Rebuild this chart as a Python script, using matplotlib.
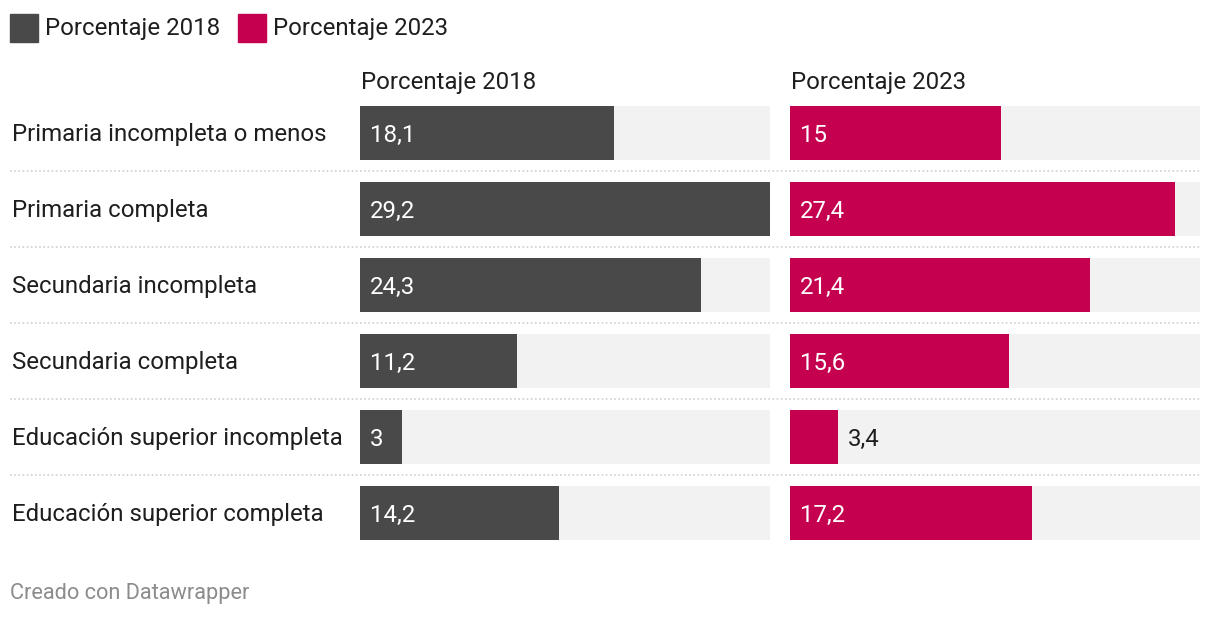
import matplotlib.pyplot as plt
import matplotlib.transforms as mtransforms
from matplotlib.lines import Line2D
from matplotlib.patches import Rectangle

plt.rcParams['font.family'] = ['Roboto', 'DejaVu Sans']

categories = ['Primaria incompleta o menos', 'Primaria completa', 'Secundaria incompleta',
              'Secundaria completa', 'Educación superior incompleta', 'Educación superior completa']
pct_2018 = [18.1, 29.2, 24.3, 11.2, 3.0, 14.2]
pct_2023 = [15.0, 27.4, 21.4, 15.6, 3.4, 17.2]
series_names = ['Porcentaje 2018', 'Porcentaje 2023']
colors = ['#494949', '#c4004f']

W, H = 1220, 618
fig = plt.figure(figsize=(W / 100, H / 100), dpi=100)
FS = 17.3
TXT = '#1e1e1e'

def fx(px):
    return px / W

def fy(py):
    return 1 - py / H

vmax = max(max(pct_2018), max(pct_2023))
n = len(categories)
pitch = 76
bh = 54 / pitch
top, bottom = 106, 540
dy = 2 / pitch  # small downward nudge for text

axes = []
for left, vals, col, name in [(360, pct_2018, colors[0], series_names[0]),
                              (790, pct_2023, colors[1], series_names[1])]:
    ax = fig.add_axes([fx(left), fy(bottom), fx(410), (bottom - top) / H])
    ax.set_xlim(0, vmax)
    ax.set_ylim(n - 1 + bh / 2, -bh / 2)
    ax.axis('off')
    ys = range(n)
    ax.barh(ys, [vmax] * n, height=bh, color='#f2f2f2', zorder=1)
    ax.barh(ys, vals, height=bh, color=col, zorder=2)
    px_per = 410 / vmax
    for y, v in zip(ys, vals):
        lab = f'{v:g}'.replace('.', ',')
        if v * px_per > 11 * len(lab) + 20:
            ax.annotate(lab, (0, y + dy), xytext=(10, 0), textcoords='offset pixels',
                        va='center', ha='left', color='white', fontsize=FS, zorder=3)
        else:
            ax.annotate(lab, (v, y + dy), xytext=(10, 0), textcoords='offset pixels',
                        va='center', ha='left', color=TXT, fontsize=FS, zorder=3)
    fig.text(fx(left + 1), fy(83), name, fontsize=FS, color=TXT, va='center', ha='left')
    axes.append(ax)

# row labels and dotted separators
tr = mtransforms.blended_transform_factory(fig.transFigure, axes[0].transData)
for i, cat in enumerate(categories):
    fig.text(fx(12), i + dy, cat, transform=tr, fontsize=FS, color=TXT, va='center', ha='left')
    if i < n - 1:
        fig.add_artist(Line2D([fx(10), fx(1200)], [i + 0.5, i + 0.5], transform=tr,
                              color='#cfcfcf', linewidth=1.2, linestyle=(0, (1, 1.5))))

# legend
x = 10
for name, col in zip(series_names, colors):
    fig.add_artist(Rectangle((fx(x), fy(42)), fx(28), 28 / H, color=col,
                             transform=fig.transFigure))
    fig.text(fx(x + 35), fy(28), name, fontsize=FS, color=TXT, va='center', ha='left')
    x += 228

fig.text(fx(10), fy(593), 'Creado con Datawrapper', fontsize=15.7, color='#8c8c8c',
         va='center', ha='left')

fig.savefig('out.png', dpi=100)
